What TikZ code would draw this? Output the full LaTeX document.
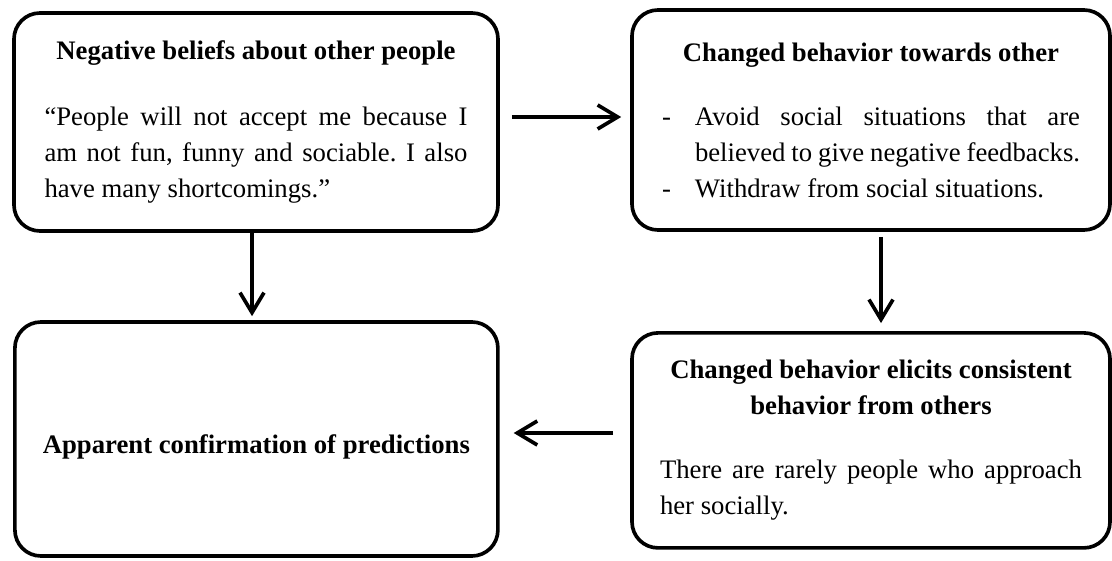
\documentclass[tikz,border=0pt]{standalone}
\usepackage{fontspec}
\setmainfont{Liberation Serif}
\usetikzlibrary{arrows.meta,positioning,calc}
\frenchspacing

\begin{document}
\begin{tikzpicture}[
  rbox/.style={rectangle, rounded corners=0.65cm, draw=black, line width=2.6pt,
               font=\fontsize{19}{25.6}\selectfont, align=justify, inner sep=0pt},
  arr/.style={-{Straight Barb[length=0.5cm, width=0.6cm]}, line width=2.6pt}
]
\useasboundingbox (0,0) rectangle (27.8,14);

% Boxes
\node[rbox, minimum width=12.1cm, minimum height=5.45cm, text width=10.575cm] (neg) at (6.4,10.95)
  {{\centering\bfseries Negative beliefs about other people\par}\vspace{0.75cm}
   “People will not accept me because I\linebreak am not fun, funny and sociable. I also\linebreak have many shortcomings.”};

\node[rbox, minimum width=11.95cm, minimum height=5.5cm, text width=10.45cm] (chg) at (21.775,11.0)
  {{\centering\bfseries Changed behavior towards other\par}\vspace{0.7cm}
   \hangindent=0.825cm\hangafter=1\noindent\makebox[0.825cm][l]{-}Avoid social situations that are\linebreak believed to give negative feedbacks.\par
   \hangindent=0.825cm\hangafter=1\noindent\makebox[0.825cm][l]{-}Withdraw from social situations.};

\node[rbox, minimum width=11.95cm, minimum height=5.375cm, text width=10.55cm] (eli) at (21.775,2.99)
  {{\centering\bfseries Changed behavior elicits consistent\\ behavior from others\par}\vspace{0.7cm}
   There are rarely people who approach\linebreak her socially.};

\node[rbox, minimum width=12.075cm, minimum height=5.85cm, align=center] (app) at (6.41,3.025)
  {\raisebox{-0.2cm}[\height][\depth]{\bfseries Apparent confirmation of predictions}};

% Arrows
\draw[arr, shorten <=0.3cm, shorten >=0.225cm] ([yshift=0.125cm]neg.east) -- ([yshift=0.125cm]neg.east -| chg.west);
\draw[arr, shorten >=0.1cm] ([xshift=-0.1cm]neg.south) -- ([xshift=-0.1cm]neg.south |- app.north);
\draw[arr, shorten <=0.125cm, shorten >=0.2cm] ([xshift=0.25cm]chg.south) -- ([xshift=0.25cm]chg.south |- eli.north);
\draw[arr, shorten <=0.425cm, shorten >=0.35cm] ([yshift=0.185cm]eli.west) -- ([yshift=0.185cm]eli.west -| app.east);
\end{tikzpicture}
\end{document}
